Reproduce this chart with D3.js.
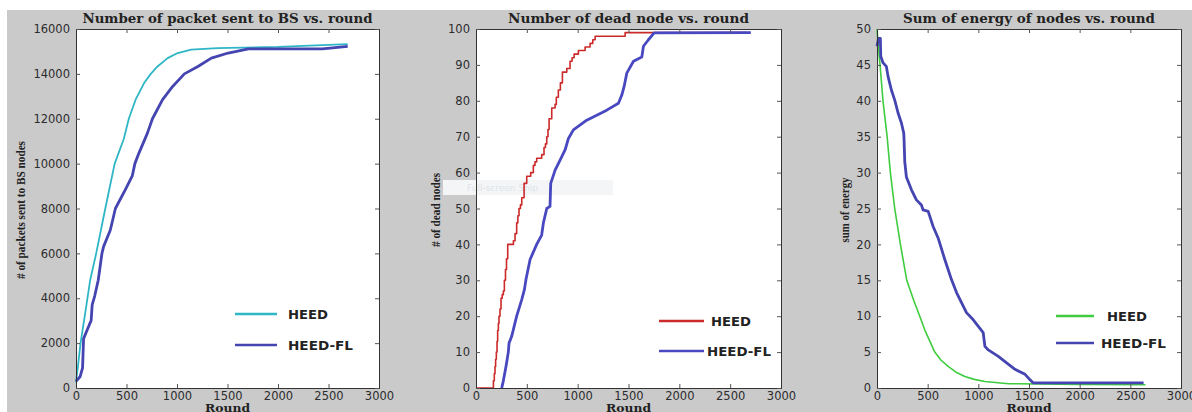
<!DOCTYPE html>
<html><head><meta charset="utf-8">
<script src="https://cdn.jsdelivr.net/npm/d3@7"></script>
<style>html,body{margin:0;padding:0;background:#fff;}svg{display:block;}</style>
</head><body>
<svg id="c" width="1192" height="412"></svg>
<script>
// ---------- data ----------
const xTicks = [0, 500, 1000, 1500, 2000, 2500, 3000];
const packetTicks = [0, 2000, 4000, 6000, 8000, 10000, 12000, 14000, 16000];
const deadTicks = [0, 10, 20, 30, 40, 50, 60, 70, 80, 90, 100];
const energyTicks = [0, 5, 10, 15, 20, 25, 30, 35, 40, 45, 50];
const seriesNames = ["HEED", "HEED-FL"];
const titles = ["Number of packet sent to BS vs. round", "Number of dead node vs. round", "Sum of energy of nodes vs. round"];
const yLabels = ["# of packets sent to BS nodes", "# of dead nodes", "sum of energy"];
const xLabel = "Round";

const packetHEED = [[0,250],[20,1000],[45,2000],[90,3300],[140,4800],[200,6000],[290,8000],[383,10000],[473,11100],[523,12000],[590,12850],[673,13580],[740,14000],[807,14330],[907,14700],[1007,14930],[1140,15080],[1400,15150],[2000,15200],[2690,15330]];
const packetHEEDFL = [[0,300],[40,500],[65,900],[75,2200],[130,2800],[150,3000],[160,3700],[185,4100],[220,4800],[257,6000],[273,6300],[340,7040],[390,8000],[490,8850],[557,9450],[583,10000],[623,10470],[680,11070],[707,11360],[757,12000],[857,12850],[957,13440],[1073,14000],[1207,14330],[1340,14700],[1507,14930],[1707,15110],[2440,15110],[2690,15230]];

const deadHEED = [[0,0],[164,0],[171,2],[180,4],[187,6],[193,8],[200,10],[207,13],[213,16],[220,18],[226,20],[236,22],[246,25],[258,26],[269,27],[279,30],[290,33],[300,36],[312,40],[368,41],[384,43],[400,46],[412,48],[423,50],[437,51],[450,53],[473,57],[499,59],[538,60],[564,62],[580,63],[597,64],[646,65],[669,67],[683,68],[696,70],[708,72],[719,75],[745,78],[778,79],[790,81],[810,83],[830,85],[850,88],[893,89],[925,91],[945,92],[965,93],[1007,94],[1073,95],[1122,96],[1149,97],[1172,98],[1450,98],[1467,99],[2650,99]];
const deadHEEDFL = [[253,0],[269,2],[295,6],[318,10],[325,12.5],[351,14.4],[400,20],[450,24.6],[476,27.4],[492,30.3],[532,35.8],[597,40],[646,42.6],[663,46],[696,50],[728,50.6],[735,57],[778,60.7],[827,63.5],[876,66.3],[909,69.5],[958,71.9],[1089,74.6],[1286,77.4],[1401,79.3],[1434,81.6],[1457,84],[1483,87.7],[1549,91],[1631,92.2],[1647,95.2],[1696,97],[1752,98.9],[2703,99]];

const energyHEED = [[0,50],[10,48],[30,45],[59,40],[100,35],[132,30],[175,25],[231,20],[294,15],[360,12.3],[422,10],[471,8.1],[570,5],[630,3.9],[702,3],[780,2.2],[867,1.6],[960,1.2],[1065,0.9],[1300,0.6],[2000,0.5],[2650,0.45]];
const energyHEEDFL = [[0,47.6],[15,48.7],[33,48.7],[37,46.2],[59,45.3],[92,44.8],[109,43.4],[142,41.5],[175,40.1],[208,38.3],[241,36.9],[264,35.5],[267,34.6],[274,31.5],[290,29.4],[340,27.6],[389,26.2],[438,25.5],[455,24.8],[505,24.6],[554,22.5],[603,20.9],[669,17.9],[735,15.1],[785,13.3],[834,11.9],[883,10.5],[950,9.5],[1048,7.7],[1065,5.8],[1098,5.3],[1197,4.4],[1279,3.5],[1362,2.6],[1461,1.9],[1500,1.3],[1543,0.7],[2631,0.7]];

// ---------- layout ----------
const svg = d3.select("#c");
svg.append("rect").attr("x",7).attr("y",10).attr("width",1185).attr("height",402).attr("fill","#cacaca");

const panels = [
  {x0:76, x1:379, ticks:packetTicks, ymax:16000, series:[packetHEED, packetHEEDFL], colors:["#2fb6c6","#4545b2"], widths:[1.8,2.8], steps:[false,false],
   title:titles[0], titleLen:290, ylab:yLabels[0], ylabX:20, ylabY:210, ylabLen:138,
   leg:{lx0:235, lx1:277, tx:288, y0:314, y1:345, tl:[40,65]}},
  {x0:476, x1:781, ticks:deadTicks, ymax:100, series:[deadHEED, deadHEEDFL], colors:["#cc2a2a","#4848c0"], widths:[1.6,2.8], steps:[true,false],
   title:titles[1], titleLen:241, ylab:yLabels[1], ylabX:435, ylabY:210, ylabLen:74,
   leg:{lx0:659, lx1:704, tx:711, tx2:707, y0:321, y1:351, tl:[40,64]}},
  {x0:877, x1:1181, ticks:energyTicks, ymax:50, series:[energyHEED, energyHEEDFL], colors:["#3fcc3f","#4545b2"], widths:[1.6,2.8], steps:[false,false],
   title:titles[2], titleLen:252, ylab:yLabels[2], ylabX:844, ylabY:210, ylabLen:65,
   leg:{lx0:1056, lx1:1094, tx:1107, tx2:1101, y0:316, y1:343, tl:[40,65]}}
];
const plotTop = 29, plotBottom = 388;

panels.forEach(p => {
  const x = d3.scaleLinear().domain([0,3000]).range([p.x0,p.x1]);
  const y = d3.scaleLinear().domain([0,p.ymax]).range([plotBottom,plotTop]);
  const g = svg.append("g");
  g.append("rect").attr("x",p.x0).attr("y",plotTop).attr("width",p.x1-p.x0).attr("height",plotBottom-plotTop).attr("fill","#fff");
  if (p.ymax === 100) {
    // faint screenshot artifact seen in the middle panel
    g.append("rect").attr("x",443).attr("y",180).attr("width",170).attr("height",15).attr("fill","#f3f5f7");
    g.append("text").attr("x",467).attr("y",191).attr("font-family","DejaVu Sans").attr("font-size","9px").attr("fill","#e0e4e8").text("Full-screen Snip");
  }

  p.series.forEach((s,i) => {
    const line = d3.line().x(d=>x(d[0])).y(d=>y(d[1])).curve(p.steps[i]?d3.curveStepAfter:d3.curveLinear);
    g.append("path").datum(s).attr("d",line).attr("fill","none").attr("stroke",p.colors[i])
      .attr("stroke-width",p.widths[i]).attr("stroke-linejoin","round");
  });

  const tk = 4;
  const axB = d3.axisBottom(x).tickValues(xTicks).tickSize(-tk).tickPadding(3.5).tickFormat(d3.format("d"));
  const axT = d3.axisTop(x).tickValues(xTicks).tickSize(-tk).tickFormat("");
  const axL = d3.axisLeft(y).tickValues(p.ticks).tickSize(-tk).tickPadding(6).tickFormat(d3.format("d"));
  const axR = d3.axisRight(y).tickValues(p.ticks).tickSize(-tk).tickFormat("");
  [[axB,`translate(0,${plotBottom})`],[axT,`translate(0,${plotTop})`],[axL,`translate(${p.x0},0)`],[axR,`translate(${p.x1},0)`]].forEach(([ax,tr])=>{
    const a = g.append("g").attr("transform",tr).call(ax);
    a.select(".domain").attr("stroke","#333").attr("stroke-width",1);
    a.selectAll(".tick line").attr("stroke","#555");
    a.selectAll("text").attr("font-family","DejaVu Sans").attr("font-size","11.5px").attr("fill","#2c2c2c");
  });

  g.append("text").attr("x",(p.x0+p.x1)/2).attr("y",23).attr("text-anchor","middle")
    .attr("font-family","DejaVu Serif").attr("font-weight","bold").attr("font-size","12px").attr("fill","#222")
    .attr("textLength",p.titleLen).attr("lengthAdjust","spacingAndGlyphs").text(p.title);
  g.append("text").attr("x",(p.x0+p.x1)/2).attr("y",411.5).attr("text-anchor","middle")
    .attr("font-family","DejaVu Serif").attr("font-weight","bold").attr("font-size","10.5px").attr("fill","#222")
    .attr("textLength",45).attr("lengthAdjust","spacingAndGlyphs").text(xLabel);
  g.append("text").attr("transform",`translate(${p.ylabX+4.5},${p.ylabY}) rotate(-90)`).attr("text-anchor","middle")
    .attr("font-family","Liberation Serif").attr("font-weight","bold").attr("font-size","13.5px").attr("fill","#222")
    .attr("textLength",p.ylabLen).attr("lengthAdjust","spacingAndGlyphs").text(p.ylab);

  const L = p.leg;
  [L.y0, L.y1].forEach((ly,i)=>{
    g.append("line").attr("x1",L.lx0).attr("x2",L.lx1).attr("y1",ly).attr("y2",ly)
      .attr("stroke",p.colors[i]).attr("stroke-width",2.5);
    g.append("text").attr("x", i===1 && L.tx2 ? L.tx2 : L.tx).attr("y",ly+4.5)
      .attr("font-family","DejaVu Sans").attr("font-weight","bold").attr("font-size","12px").attr("fill","#222")
      .attr("textLength",L.tl[i]).attr("lengthAdjust","spacingAndGlyphs").text(seriesNames[i]);
  });
});
</script>
</body></html>
